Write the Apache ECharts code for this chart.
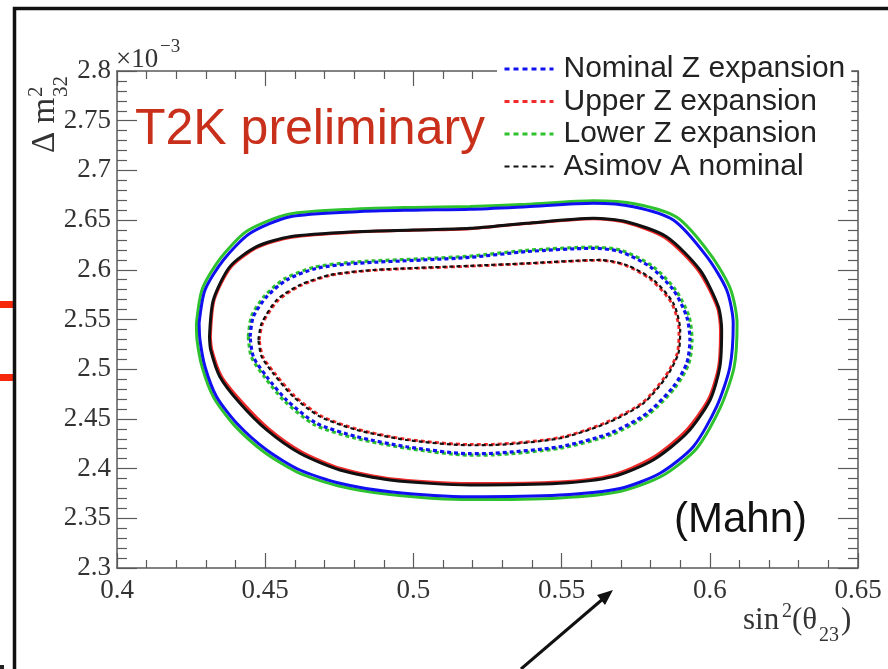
<!DOCTYPE html>
<html>
<head>
<meta charset="utf-8">
<script src="https://cdn.jsdelivr.net/npm/echarts@6.0.0/dist/echarts.min.js"></script>
<style>
  html, body { margin: 0; padding: 0; background: #fff; }
  #chart { width: 888px; height: 669px; }
</style>
</head>
<body>
<div id="chart"></div>
<script>
// contour points: [sin^2(theta23), dm2_32 in 1e-3 eV^2]
const nominalOuter = [[0.4277,2.5465],[0.4297,2.5797],[0.4359,2.6099],[0.4449,2.6367],[0.4584,2.6534],[0.4809,2.6585],[0.5000,2.6600],[0.5191,2.6609],[0.5382,2.6635],[0.5607,2.6669],[0.5742,2.6635],[0.5877,2.6501],[0.5990,2.6132],[0.6057,2.5797],[0.6079,2.5462],[0.6068,2.5025],[0.6023,2.4623],[0.5944,2.4220],[0.5832,2.3953],[0.5697,2.3800],[0.5494,2.3734],[0.5191,2.3717],[0.4921,2.3767],[0.4752,2.3852],[0.4617,2.3986],[0.4505,2.4187],[0.4404,2.4456],[0.4336,2.4723],[0.4297,2.5025],[0.4280,2.5294],[0.4277,2.5465]]
const lowerOuter = [[0.4268,2.5465],[0.4288,2.5810],[0.4350,2.6120],[0.4440,2.6392],[0.4580,2.6560],[0.4809,2.6612],[0.5000,2.6628],[0.5191,2.6638],[0.5382,2.6660],[0.5607,2.6695],[0.5750,2.6662],[0.5890,2.6525],[0.6003,2.6150],[0.6070,2.5805],[0.6092,2.5462],[0.6082,2.5020],[0.6035,2.4610],[0.5955,2.4200],[0.5840,2.3928],[0.5700,2.3772],[0.5494,2.3705],[0.5191,2.3688],[0.4921,2.3740],[0.4745,2.3828],[0.4608,2.3965],[0.4495,2.4170],[0.4393,2.4445],[0.4326,2.4718],[0.4287,2.5025],[0.4270,2.5294],[0.4268,2.5465]]
const asimovOuter = [[0.4312,2.5327],[0.4325,2.5696],[0.4381,2.6032],[0.4471,2.6233],[0.4584,2.6333],[0.4809,2.6384],[0.5000,2.6400],[0.5191,2.6417],[0.5382,2.6468],[0.5607,2.6518],[0.5719,2.6484],[0.5854,2.6333],[0.5967,2.5998],[0.6029,2.5629],[0.6040,2.5394],[0.6034,2.5025],[0.6001,2.4690],[0.5922,2.4355],[0.5809,2.4087],[0.5674,2.3919],[0.5494,2.3852],[0.5191,2.3835],[0.4921,2.3885],[0.4752,2.3986],[0.4617,2.4154],[0.4505,2.4389],[0.4415,2.4657],[0.4347,2.4925],[0.4316,2.5194],[0.4312,2.5327]]
const upperOuter = [[0.4315,2.5327],[0.4328,2.5700],[0.4385,2.6030],[0.4475,2.6228],[0.4588,2.6328],[0.4809,2.6380],[0.5000,2.6398],[0.5191,2.6414],[0.5382,2.6466],[0.5607,2.6514],[0.5715,2.6478],[0.5848,2.6325],[0.5962,2.5990],[0.6025,2.5625],[0.6036,2.5394],[0.6030,2.5030],[0.5996,2.4700],[0.5916,2.4370],[0.5802,2.4100],[0.5668,2.3932],[0.5494,2.3866],[0.5191,2.3850],[0.4921,2.3898],[0.4758,2.3998],[0.4625,2.4165],[0.4513,2.4398],[0.4423,2.4665],[0.4352,2.4930],[0.4320,2.5194],[0.4315,2.5327]]

const nominalInner = [[0.4449,2.5327],[0.4460,2.5529],[0.4505,2.5729],[0.4572,2.5897],[0.4673,2.6015],[0.4809,2.6065],[0.5033,2.6099],[0.5191,2.6125],[0.5382,2.6183],[0.5607,2.6216],[0.5697,2.6183],[0.5798,2.6032],[0.5877,2.5797],[0.5922,2.5529],[0.5933,2.5294],[0.5922,2.5059],[0.5877,2.4824],[0.5787,2.4555],[0.5663,2.4355],[0.5494,2.4220],[0.5270,2.4154],[0.5191,2.4150],[0.4977,2.4220],[0.4809,2.4321],[0.4673,2.4456],[0.4572,2.4690],[0.4505,2.4925],[0.4460,2.5126],[0.4449,2.5327]]
const lowerInner = [[0.4443,2.5327],[0.4454,2.5535],[0.4499,2.5740],[0.4566,2.5910],[0.4668,2.6028],[0.4809,2.6080],[0.5033,2.6112],[0.5191,2.6138],[0.5382,2.6196],[0.5607,2.6228],[0.5702,2.6195],[0.5805,2.6040],[0.5884,2.5800],[0.5930,2.5529],[0.5940,2.5294],[0.5929,2.5055],[0.5883,2.4815],[0.5792,2.4543],[0.5667,2.4340],[0.5494,2.4205],[0.5270,2.4138],[0.5191,2.4135],[0.4977,2.4205],[0.4805,2.4305],[0.4667,2.4440],[0.4565,2.4680],[0.4498,2.4920],[0.4453,2.5126],[0.4443,2.5327]]
const asimovInner = [[0.4477,2.5294],[0.4488,2.5462],[0.4539,2.5696],[0.4617,2.5847],[0.4719,2.5948],[0.4865,2.5998],[0.5191,2.6040],[0.5382,2.6065],[0.5630,2.6099],[0.5719,2.6048],[0.5810,2.5897],[0.5877,2.5663],[0.5900,2.5394],[0.5894,2.5159],[0.5854,2.4925],[0.5776,2.4657],[0.5652,2.4456],[0.5494,2.4305],[0.5270,2.4237],[0.5191,2.4235],[0.4977,2.4288],[0.4809,2.4389],[0.4685,2.4523],[0.4595,2.4723],[0.4527,2.4958],[0.4488,2.5126],[0.4477,2.5294]]
const upperInner = [[0.4480,2.5294],[0.4492,2.5465],[0.4543,2.5690],[0.4620,2.5842],[0.4722,2.5944],[0.4865,2.5995],[0.5191,2.6036],[0.5382,2.6062],[0.5630,2.6096],[0.5715,2.6045],[0.5805,2.5892],[0.5872,2.5660],[0.5896,2.5394],[0.5890,2.5160],[0.5850,2.4930],[0.5772,2.4662],[0.5648,2.4462],[0.5494,2.4312],[0.5270,2.4245],[0.5191,2.4243],[0.4977,2.4295],[0.4812,2.4395],[0.4690,2.4528],[0.4600,2.4728],[0.4532,2.4960],[0.4492,2.5126],[0.4480,2.5294]]

const names = ['Nominal Z expansion', 'Upper Z expansion', 'Lower Z expansion', 'Asimov A nominal']
const colors = ['#1010f0', '#ee2a2a', '#2ec22e', '#111111']
const xTicks = [0.4, 0.45, 0.5, 0.55, 0.6, 0.65]
const yTicks = [2.3, 2.35, 2.4, 2.45, 2.5, 2.55, 2.6, 2.65, 2.7, 2.75, 2.8]

const serif = '"Liberation Serif", "DejaVu Serif", serif'
const sans = '"Liberation Sans", Arial, sans-serif'
const axisGray = '#5a5a5a'
const ink = '#333'

function contour(name, data, color, width, dashed, z) {
  return {
    type: 'line', name, data, z,
    showSymbol: false, symbol: 'none', smooth: 0.25,
    lineStyle: { color, width, type: dashed ? [4, 3] : 'solid' },
    itemStyle: { color },
    emphasis: { disabled: true }
  }
}

function xAxisOf(pos, showLabel) {
  return {
    type: 'value', position: pos,
    min: xTicks[0], max: xTicks[xTicks.length - 1], interval: 0.05,
    axisLine: { show: true, onZero: false, lineStyle: { color: axisGray, width: 1.5 } },
    axisTick: { show: true, inside: true, length: 15, lineStyle: { color: axisGray, width: 1.2 } },
    minorTick: { show: true, splitNumber: 5, length: 8, lineStyle: { color: axisGray, width: 1.2 } },
    splitLine: { show: false },
    axisLabel: { show: showLabel, margin: 9, color: ink, fontFamily: serif, fontSize: 27,
      formatter: (v) => String(+v.toFixed(2)) }
  }
}

function yAxisOf(pos, showLabel) {
  return {
    type: 'value', position: pos,
    min: yTicks[0], max: yTicks[yTicks.length - 1], interval: 0.05,
    axisLine: { show: true, onZero: false, lineStyle: { color: axisGray, width: 1.5 } },
    axisTick: { show: true, inside: true, length: 20, lineStyle: { color: axisGray, width: 1.2 } },
    minorTick: { show: true, splitNumber: 5, length: 10, lineStyle: { color: axisGray, width: 1.2 } },
    splitLine: { show: false },
    axisLabel: { show: showLabel, margin: 6, color: ink, fontFamily: serif, fontSize: 27,
      formatter: (v) => String(+v.toFixed(2)) }
  }
}

function txt(x, y, text, size, family) {
  return { type: 'text', x, y, style: { text, fill: ink, font: size + 'px ' + family, verticalAlign: 'middle' } }
}

const chart = echarts.init(document.getElementById('chart'))
chart.setOption({
  animation: false,
  backgroundColor: '#fff',
  grid: { left: 117, right: 30, top: 71, bottom: 101, outerBoundsMode: 'none' },
  xAxis: [xAxisOf('bottom', true), xAxisOf('top', false)],
  yAxis: [yAxisOf('left', true), yAxisOf('right', false)],
  legend: {
    data: names.map((name, i) => ({ name, lineStyle: { width: i === 3 ? 2 : 3, type: [5, 4] } })),
    orient: 'vertical', left: 497, top: 52,
    padding: [1, 6], itemGap: 0.5, itemWidth: 49, itemHeight: 14,
    backgroundColor: '#fff',
    itemStyle: { opacity: 0 },
    textStyle: { fontFamily: sans, fontSize: 30, color: '#222', lineHeight: 32, padding: [0, 0, 0, 5] }
  },
  series: [
    // dashed inner contours first so the legend takes their style
    contour(names[0], nominalInner, colors[0], 3.2, true, 4),
    contour(names[1], upperInner, colors[1], 2.8, true, 3),
    contour(names[2], lowerInner, colors[2], 3.2, true, 2),
    contour(names[3], asimovInner, colors[3], 2.2, true, 5),
    contour(names[0], nominalOuter, colors[0], 3, false, 4),
    contour(names[1], upperOuter, colors[1], 3, false, 3),
    contour(names[2], lowerOuter, colors[2], 3, false, 2),
    contour(names[3], asimovOuter, colors[3], 3, false, 5)
  ],
  graphic: [
    // slide frame and bits around the plot
    { type: 'polyline', silent: true, z: 10, shape: { points: [[14.5, 669], [14.5, 8.5], [888, 8.5]] },
      style: { stroke: '#111', lineWidth: 3.5, fill: null } },
    { type: 'rect', silent: true, shape: { x: 0, y: 301, width: 13, height: 7 }, style: { fill: '#f5280c' } },
    { type: 'rect', silent: true, shape: { x: 0, y: 374, width: 13, height: 7 }, style: { fill: '#f5280c' } },
    { type: 'rect', silent: true, shape: { x: 0, y: 665, width: 4, height: 4 }, style: { fill: '#222' } },
    { type: 'line', silent: true, z: 10, shape: { x1: 521, y1: 669, x2: 604, y2: 598 },
      style: { stroke: '#111', lineWidth: 3 } },
    { type: 'polygon', silent: true, z: 10, shape: { points: [[613, 590], [605, 605], [597, 595]] },
      style: { fill: '#111' } },
    // annotations
    { type: 'text', silent: true, z: 10, left: 135, top: 105,
      style: { text: 'T2K preliminary', fill: '#c9301c', font: '50px ' + sans } },
    { type: 'text', silent: true, z: 10, left: 674, top: 499,
      style: { text: '(Mahn)', fill: '#111', font: '42px ' + sans } },
    // exponent above y axis
    { type: 'group', silent: true, x: 116, y: 0,
      children: [txt(0, 60, '×10', 27, serif), txt(44, 47, '−3', 19, serif)] },
    // y axis title, rotated so it reads upwards
    { type: 'group', silent: true, x: 0, y: 153, rotation: Math.PI / 2,
      children: [txt(0, 45, 'Δ m', 33, serif), txt(56, 36, '2', 21, serif), txt(56, 61, '32', 21, serif)] },
    // x axis title
    { type: 'group', silent: true, x: 743, y: 0,
      children: [
        txt(0, 621, 'sin', 31, serif), txt(39, 612, '2', 20, serif),
        txt(49, 621, '(θ', 31, serif), txt(76, 636, '23', 20, serif), txt(98, 621, ')', 31, serif)
      ] }
  ]
})
</script>
</body>
</html>
